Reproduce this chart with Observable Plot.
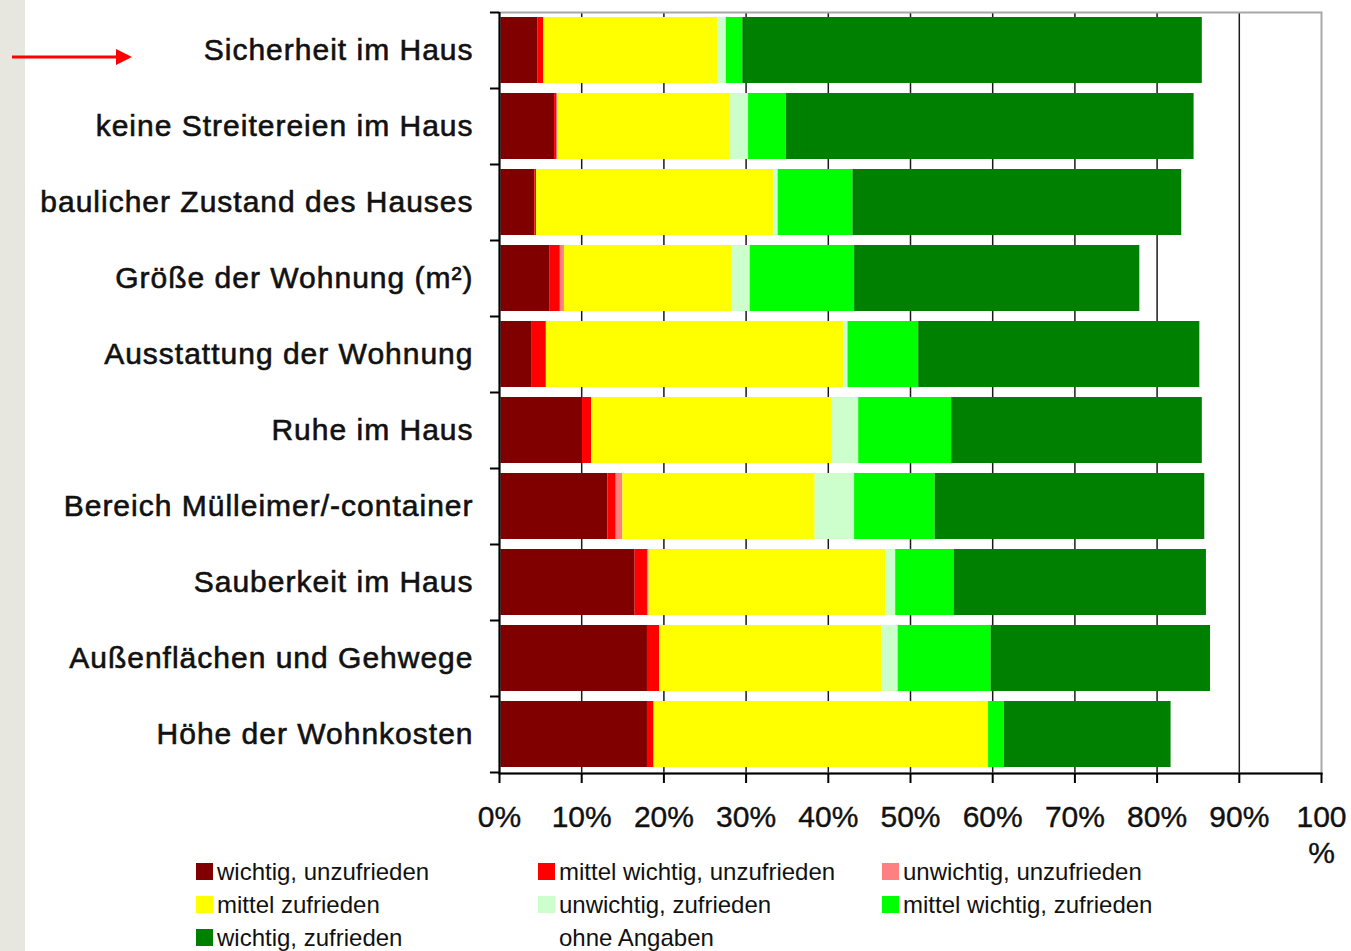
<!DOCTYPE html>
<html><head><meta charset="utf-8">
<script src="https://cdn.jsdelivr.net/npm/d3@7"></script>
<script src="https://cdn.jsdelivr.net/npm/@observablehq/plot@0.6"></script>
<style>
body{margin:0;background:#fff;font-family:"Liberation Sans",Arial,sans-serif;}
#wrap{position:relative;width:1351px;height:951px;overflow:hidden;background:#fff;}
#strip{position:absolute;left:0;top:0;width:25px;height:951px;background:#e7e7e0;}
#chart{position:absolute;left:0;top:0;}
#arrow{position:absolute;left:0;top:0;}
#legend{position:absolute;left:196px;top:855px;display:grid;grid-template-columns:342px 344px 320px;grid-auto-rows:33px;font-size:24px;color:#111;}
.item{display:flex;align-items:center;white-space:nowrap;}
.sw{width:17px;height:17px;margin-right:4px;flex:none}
#chart g[aria-label="y-axis tick label"] text{letter-spacing:1px;stroke:#111;stroke-width:0.6px;}
#chart g[aria-label="x-axis tick label"] text{stroke:#111;stroke-width:0.4px;}
</style></head>
<body>
<div id="wrap">
  <div id="strip"></div>
  <div id="chart"></div>
  <svg id="arrow" width="140" height="80"><line x1="12" y1="57" x2="116" y2="57" stroke="#ff0000" stroke-width="3"/><polygon points="116,49 132,57 116,65" fill="#ff0000"/></svg>
  <div id="legend"></div>
</div>
<script>
const categories = ["Sicherheit im Haus","keine Streitereien im Haus","baulicher Zustand des Hauses","Größe der Wohnung (m²)","Ausstattung der Wohnung","Ruhe im Haus","Bereich Mülleimer/-container","Sauberkeit im Haus","Außenflächen und Gehwege","Höhe der Wohnkosten"];
const series = ["wichtig, unzufrieden","mittel wichtig, unzufrieden","unwichtig, unzufrieden","mittel zufrieden","unwichtig, zufrieden","mittel wichtig, zufrieden","wichtig, zufrieden","ohne Angaben"];
const colors = ["#800000","#ff0000","#ff8080","#ffff00","#ccffcc","#00ff00","#008000","transparent"];

const wichtigUnzufrieden     = [4.7, 6.7, 4.3, 6.1, 3.9, 10.1, 13.2, 16.5, 18.0, 18.0];
const mittelUnzufrieden      = [0.7, 0.3, 0.2, 1.3, 1.8, 1.1, 1.0, 1.5, 1.5, 0.8];
const unwichtigUnzufrieden   = [0.0, 0.1, 0.0, 0.5, 0.0, 0.0, 0.8, 0.2, 0.0, 0.0];
const mittelZufrieden        = [21.2, 21.0, 28.9, 20.4, 36.2, 29.3, 23.4, 28.8, 27.0, 40.7];
const unwichtigZufrieden     = [1.0, 2.2, 0.5, 2.2, 0.5, 3.2, 4.8, 1.2, 2.0, 0.0];
const mittelWichtigZufrieden = [2.0, 4.6, 9.1, 12.7, 8.6, 11.3, 9.8, 7.1, 11.3, 1.9];
const wichtigZufrieden       = [55.9, 49.6, 40.0, 34.7, 34.2, 30.5, 32.8, 30.7, 26.7, 20.3];
const ohneAngaben            = [14.5, 15.5, 17.0, 22.1, 14.8, 14.5, 14.2, 14.0, 13.5, 18.3];
const xTicks = [0,10,20,30,40,50,60,70,80,90,100];

const seriesValues = [wichtigUnzufrieden, mittelUnzufrieden, unwichtigUnzufrieden, mittelZufrieden, unwichtigZufrieden, mittelWichtigZufrieden, wichtigZufrieden, ohneAngaben];
const data = [];
categories.forEach((c, i) => series.forEach((s, j) => data.push({category: c, series: s, value: seriesValues[j][i]})));

const font = '"Liberation Sans", Arial, sans-serif';
const chart = Plot.plot({
  width: 1351, height: 870,
  marginLeft: 499, marginRight: 30, marginTop: 12, marginBottom: 97,
  style: {fontFamily: font, background: "transparent", color: "#111"},
  x: {domain: [0, 100]},
  y: {domain: categories, paddingInner: 0.13, paddingOuter: 0.065},
  color: {domain: series, range: colors},
  marks: [
    Plot.ruleX(xTicks.filter(d => d > 0 && d < 100), {stroke: "#1a1a1a", strokeWidth: 1.5}),
    Plot.barX(data, Plot.stackX({y: "category", x: "value", fill: "series", order: null})),
    Plot.frame({stroke: "#a8a8a8", strokeWidth: 2}),
    Plot.ruleX([0], {stroke: "#000", strokeWidth: 2}),
    Plot.frame({anchor: "bottom", stroke: "#000", strokeWidth: 2}),
    Plot.ruleY(categories, {y: d => d, x1: -1.1, x2: 0, dy: -38, stroke: "#000", strokeWidth: 2}),
    Plot.ruleY(categories.slice(-1), {y: d => d, x1: -1.1, x2: 0, dy: 38, stroke: "#000", strokeWidth: 2}),
    Plot.axisX({ticks: xTicks, tickFormat: d => d === 100 ? "100\n%" : d + "%", tickSize: 10, tickPadding: 18, fontSize: 30, lineHeight: 1.2, stroke: "#000", strokeWidth: 2, label: null, fill: "#111"}),
    Plot.axisY({tickSize: 0, tickPadding: 26, fontSize: 30, label: null, fill: "#111"})
  ]
});
document.getElementById("chart").appendChild(chart);

const legend = document.getElementById("legend");
series.forEach((s, j) => {
  const item = document.createElement("div");
  item.className = "item";
  const sw = document.createElement("span");
  sw.className = "sw";
  sw.style.background = colors[j];
  const t = document.createElement("span");
  t.textContent = s;
  item.appendChild(sw); item.appendChild(t);
  legend.appendChild(item);
});
</script>
</body></html>
